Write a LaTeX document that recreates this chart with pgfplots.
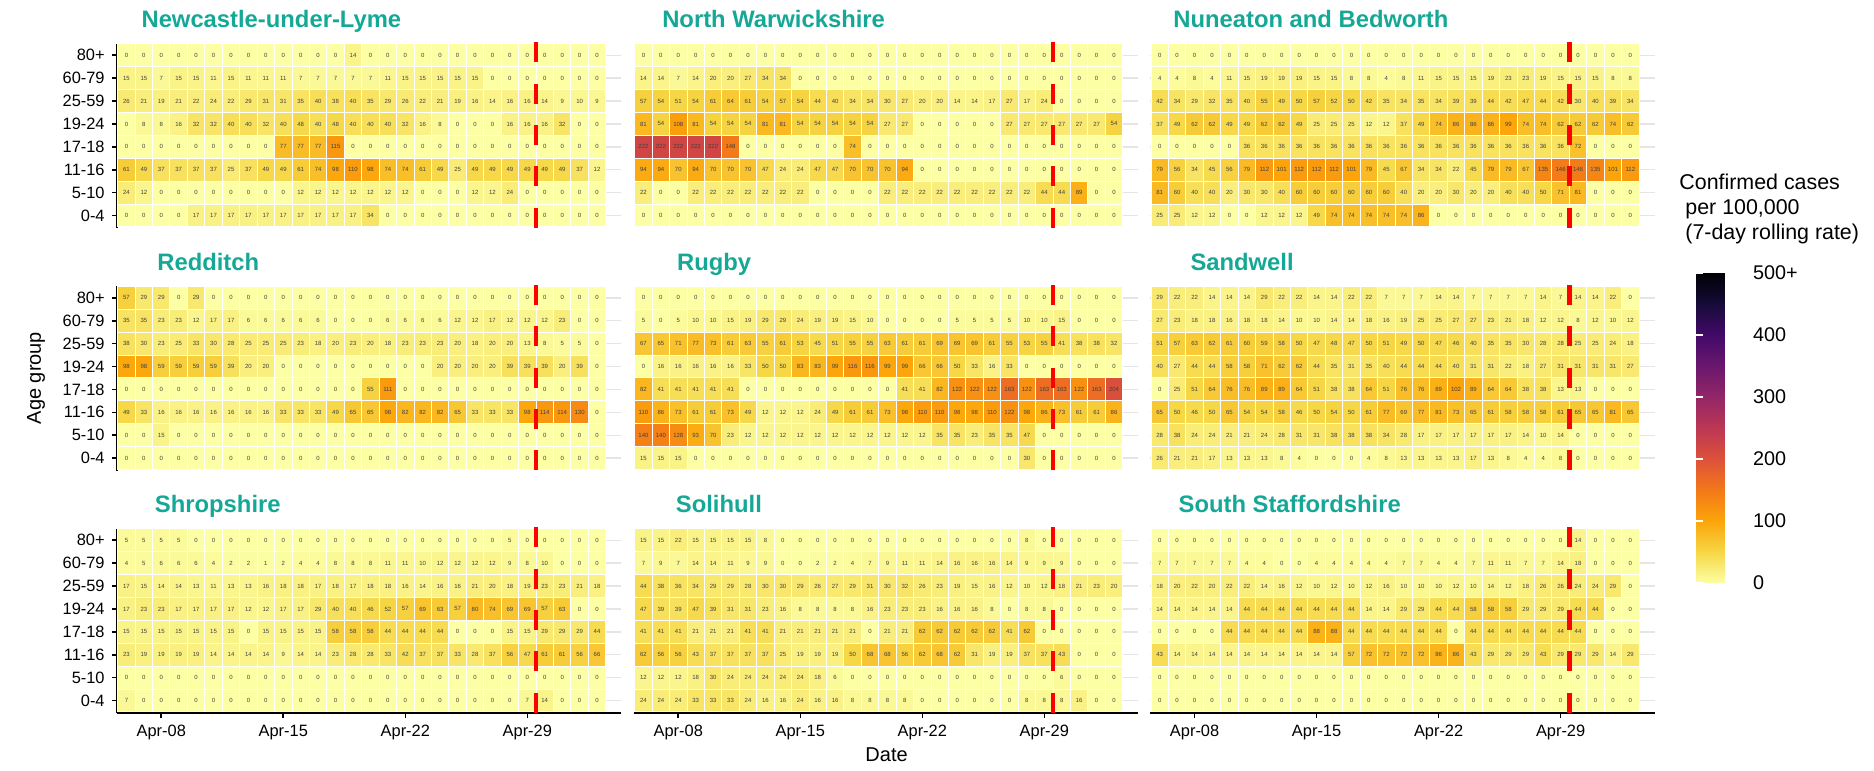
\documentclass[border=0pt]{standalone}
\usepackage{fontspec}
\setmainfont{Liberation Sans}
\usepackage{pgfplots}
\pgfplotsset{compat=1.18}
\definecolor{titlecol}{HTML}{15A896}
\pgfdeclareplotmark{cell}{\pgfpathrectangle{\pgfpoint{-4.3575pt}{-5.725pt}}{\pgfpoint{8.715pt}{11.45pt}}\pgfusepathqfillstroke}
\pgfdeclareplotmark{nomark}{}
\pgfdeclareplotmark{redbar}{\pgfsetdash{{10pt}{10.65pt}}{0pt}\pgfsetlinewidth{2.35pt}\pgfsetbuttcap\pgfsetstrokecolor{red}\pgfpathmoveto{\pgfpoint{0pt}{46.5pt}}\pgfpathlineto{\pgfpoint{0pt}{-46.5pt}}\pgfusepathqstroke}
\pgfplotsset{
  /pgf/number format/assume math mode=true,
  colormap={infernor}{rgb255=(252,255,164) rgb255=(246,215,70) rgb255=(252,165,10) rgb255=(243,120,25) rgb255=(221,81,58) rgb255=(188,55,84) rgb255=(147,38,103) rgb255=(106,23,110) rgb255=(66,10,104) rgb255=(22,11,57) rgb255=(0,0,4)},
  cellplot/.style={scatter, only marks, mark=cell, point meta=explicit, forget plot,
    line width=0.5pt,
    scatter/use mapped color={draw=white, fill=mapped color}},
  numplot/.style={only marks, mark=nomark, point meta=explicit, forget plot,
    nodes near coords, nodes near coords align={center},
    nodes near coords style={font=\fontsize{3}{3.6}\selectfont, text=black!75, inner sep=0pt}},
  panel/.style={anchor=south west, x=8.715pt, y=11.45pt,
    xmin=-0.56, xmax=28.4, ymin=-0.55, ymax=7.5, clip=false,
    axis lines=left, axis line style={-, line width=1pt, black},
    ytick={0,...,7}, yticklabels={0-4,5-10,11-16,17-18,19-24,25-59,60-79,80+},
    xtick={2,9,16,23}, xticklabels={Apr-08,Apr-15,Apr-22,Apr-29},
    tick align=outside, major tick length=2.5pt, tick style={black, line width=0.8pt},
    ymajorgrids, major grid style={black!10, line width=0.7pt},
    tick label style={font=\fontsize{8.2}{9}\selectfont},
    colormap name=infernor, point meta min=0, point meta max=500,
    every axis title/.style={at={(0.1,1)}, anchor=base west, yshift=8pt, inner sep=0pt,
      font=\fontsize{11.9}{14}\selectfont\bfseries, text=titlecol}},
  hidey/.style={y axis line style={draw=none}, ytick style={draw=none}, yticklabels={}},
  hidex/.style={x axis line style={draw=none}, xtick style={draw=none}, xticklabels={}}
}
\newcommand\ttl[1]{\setbox0=\hbox{#1}\kern-0.1\wd0\box0}
\newcommand\agerow[2]{%
  \gdef\rowcoords{}%
  \foreach \cv [count=\ci from 0] in {#2}{\xdef\rowcoords{\rowcoords (\ci,#1) [\cv]}}%
  \edef\doplot{\noexpand\addplot[cellplot] coordinates {\rowcoords};\noexpand\addplot[numplot] coordinates {\rowcoords};}%
  \doplot}
\newcommand\redline{\addplot[only marks, mark=redbar, forget plot] coordinates {(23.5,3.5)};}

\begin{document}
\begin{tikzpicture}
\useasboundingbox (0,0) rectangle (937pt,385.5pt);

% Newcastle-under-Lyme
\begin{axis}[panel, hidex, at={(58.33pt,271.43pt)}, title={\ttl{Newcastle-under-Lyme}}]
\agerow{7}{0,0,0,0,0,0,0,0,0,0,0,0,0,14,0,0,0,0,0,0,0,0,0,0,0,0,0,0}
\agerow{6}{15,15,7,15,15,11,15,11,11,11,7,7,7,7,7,11,15,15,15,15,15,0,0,0,0,0,0,0}
\agerow{5}{26,21,19,21,22,24,22,29,31,31,35,40,38,40,35,29,26,22,21,19,16,14,16,16,14,9,10,9}
\agerow{4}{0,8,8,16,32,32,40,40,32,40,48,40,48,40,40,40,32,16,8,0,0,0,16,16,16,32,0,0}
\agerow{3}{0,0,0,0,0,0,0,0,0,77,77,77,115,0,0,0,0,0,0,0,0,0,0,0,0,0,0,0}
\agerow{2}{61,49,37,37,37,37,25,37,49,49,61,74,98,110,98,74,74,61,49,25,49,49,49,49,49,49,37,12}
\agerow{1}{24,12,0,0,0,0,0,0,0,0,12,12,12,12,12,12,12,0,0,0,12,12,24,0,0,0,0,0}
\agerow{0}{0,0,0,0,17,17,17,17,17,17,17,17,17,17,34,0,0,0,0,0,0,0,0,0,0,0,0,0}
\redline
\end{axis}

% North Warwickshire
\begin{axis}[panel, hidex, hidey, at={(316.83pt,271.43pt)}, title={\ttl{North Warwickshire}}]
\agerow{7}{0,0,0,0,0,0,0,0,0,0,0,0,0,0,0,0,0,0,0,0,0,0,0,0,0,0,0,0}
\agerow{6}{14,14,7,14,20,20,27,34,34,0,0,0,0,0,0,0,0,0,0,0,0,0,0,0,0,0,0,0}
\agerow{5}{57,54,51,54,61,64,61,54,57,54,44,40,34,34,30,27,20,20,14,14,17,27,17,24,0,0,0,0}
\agerow{4}{81,54,108,81,54,54,54,81,81,54,54,54,54,54,27,27,0,0,0,0,0,27,27,27,27,27,27,54}
\agerow{3}{222,222,222,222,222,148,0,0,0,0,0,0,74,0,0,0,0,0,0,0,0,0,0,0,0,0,0,0}
\agerow{2}{94,94,70,94,70,70,70,47,24,24,47,47,70,70,70,94,0,0,0,0,0,0,0,0,0,0,0,0}
\agerow{1}{22,0,0,22,22,22,22,22,22,22,0,0,0,0,22,22,22,22,22,22,22,22,22,44,44,89,0,0}
\agerow{0}{0,0,0,0,0,0,0,0,0,0,0,0,0,0,0,0,0,0,0,0,0,0,0,0,0,0,0,0}
\redline
\end{axis}

% Nuneaton and Bedworth
\begin{axis}[panel, hidex, hidey, at={(574.98pt,271.43pt)}, title={\ttl{Nuneaton and Bedworth}}]
\agerow{7}{0,0,0,0,0,0,0,0,0,0,0,0,0,0,0,0,0,0,0,0,0,0,0,0,0,0,0,0}
\agerow{6}{4,4,8,4,11,15,19,19,19,15,15,8,8,4,8,11,15,15,15,19,23,23,19,15,15,15,8,8}
\agerow{5}{42,34,29,32,35,40,55,49,50,57,52,50,42,35,34,35,34,39,39,44,42,47,44,42,30,40,39,34}
\agerow{4}{37,49,62,62,49,49,62,62,49,25,25,25,12,12,37,49,74,86,86,86,99,74,74,62,62,62,74,62}
\agerow{3}{0,0,0,0,0,36,36,36,36,36,36,36,36,36,36,36,36,36,36,36,36,36,36,36,72,0,0,0}
\agerow{2}{79,56,34,45,56,79,112,101,112,112,112,101,79,45,67,34,34,22,45,79,79,67,135,146,146,135,101,112}
\agerow{1}{81,60,40,40,20,30,30,40,60,60,60,60,60,60,40,20,20,30,20,20,40,40,50,71,81,0,0,0}
\agerow{0}{25,25,12,12,0,0,12,12,12,49,74,74,74,74,74,86,0,0,0,0,0,0,0,0,0,0,0,0}
\redline
\end{axis}

% Redditch
\begin{axis}[panel, hidex, at={(58.33pt,150.13pt)}, title={\ttl{Redditch}}]
\agerow{7}{57,29,29,0,29,0,0,0,0,0,0,0,0,0,0,0,0,0,0,0,0,0,0,0,0,0,0,0}
\agerow{6}{35,35,23,23,12,17,17,6,6,6,6,6,0,0,0,6,6,6,6,12,12,17,12,12,12,23,0,0}
\agerow{5}{38,30,23,25,33,30,28,25,25,25,23,18,20,23,20,18,23,23,23,20,18,20,20,13,8,5,5,0}
\agerow{4}{98,98,59,59,59,59,39,20,20,0,0,0,0,0,0,0,0,0,20,20,20,20,39,39,39,20,39,0}
\agerow{3}{0,0,0,0,0,0,0,0,0,0,0,0,0,0,55,111,0,0,0,0,0,0,0,0,0,0,0,0}
\agerow{2}{49,33,16,16,16,16,16,16,16,33,33,33,49,65,65,98,82,82,82,65,33,33,33,98,114,114,130,0}
\agerow{1}{0,0,15,0,0,0,0,0,0,0,0,0,0,0,0,0,0,0,0,0,0,0,0,0,0,0,0,0}
\agerow{0}{0,0,0,0,0,0,0,0,0,0,0,0,0,0,0,0,0,0,0,0,0,0,0,0,0,0,0,0}
\redline
\end{axis}

% Rugby
\begin{axis}[panel, hidex, hidey, at={(316.83pt,150.13pt)}, title={\ttl{Rugby}}]
\agerow{7}{0,0,0,0,0,0,0,0,0,0,0,0,0,0,0,0,0,0,0,0,0,0,0,0,0,0,0,0}
\agerow{6}{5,0,5,10,10,15,19,29,29,24,19,19,15,10,0,0,0,0,5,5,5,5,10,10,15,0,0,0}
\agerow{5}{67,65,71,77,73,61,63,55,61,53,45,51,55,55,63,61,61,69,69,69,61,55,53,55,41,38,38,32}
\agerow{4}{0,16,16,16,16,16,33,50,50,83,83,99,116,116,99,99,66,66,50,33,16,33,0,0,0,0,0,0}
\agerow{3}{82,41,41,41,41,41,0,0,0,0,0,0,0,0,0,41,41,82,122,122,122,163,122,163,163,122,163,204}
\agerow{2}{110,86,73,61,61,73,49,12,12,12,24,49,61,61,73,98,110,110,98,98,110,122,98,86,73,61,61,86}
\agerow{1}{140,140,128,93,70,23,12,12,12,12,12,12,12,12,12,12,12,35,35,23,35,35,47,0,0,0,0,0}
\agerow{0}{15,15,15,0,0,0,0,0,0,0,0,0,0,0,0,0,0,0,0,0,0,0,30,0,0,0,0,0}
\redline
\end{axis}

% Sandwell
\begin{axis}[panel, hidex, hidey, at={(574.98pt,150.13pt)}, title={\ttl{Sandwell}}]
\agerow{7}{29,22,22,14,14,14,29,22,22,14,14,22,22,7,7,7,14,14,7,7,7,7,14,7,14,14,22,0}
\agerow{6}{27,23,18,18,16,18,18,14,10,10,14,14,18,16,19,25,25,27,27,23,21,18,12,12,8,12,10,12}
\agerow{5}{51,57,63,62,61,60,59,58,50,47,48,47,50,51,49,50,47,46,40,35,35,30,28,28,25,25,24,18}
\agerow{4}{40,27,44,44,58,58,71,62,62,44,35,31,35,40,44,44,44,40,31,31,22,18,27,31,31,31,31,27}
\agerow{3}{0,25,51,64,76,76,89,89,64,51,38,38,64,51,76,76,89,102,89,64,64,38,38,13,13,0,0,0}
\agerow{2}{65,50,46,50,65,54,54,58,46,50,54,50,61,77,69,77,81,73,65,61,58,58,58,61,65,65,81,65}
\agerow{1}{28,38,24,24,21,21,24,28,31,31,38,38,38,34,28,17,17,17,17,17,17,14,10,14,0,0,0,0}
\agerow{0}{26,21,21,17,13,13,13,8,4,0,0,0,4,8,13,13,13,13,17,13,8,4,4,8,0,0,0,0}
\redline
\end{axis}

% Shropshire
\begin{axis}[panel, at={(58.33pt,28.93pt)}, title={\ttl{Shropshire}}]
\agerow{7}{5,5,5,5,0,0,0,0,0,0,0,0,0,0,0,0,0,0,0,0,0,0,5,0,0,0,0,0}
\agerow{6}{4,5,6,6,6,4,2,2,1,2,4,4,8,8,8,11,11,10,12,12,12,12,9,8,10,0,0,0}
\agerow{5}{17,15,14,14,13,11,13,13,16,18,18,17,18,17,18,18,16,14,16,16,21,20,18,19,23,23,21,18}
\agerow{4}{17,23,23,17,17,17,17,12,12,17,17,29,40,40,46,52,57,69,63,57,80,74,69,69,57,63,0,0}
\agerow{3}{15,15,15,15,15,15,15,0,15,15,15,15,58,58,58,44,44,44,44,0,0,0,15,15,29,29,29,44}
\agerow{2}{23,19,19,19,19,14,14,14,14,9,14,14,23,28,28,33,42,37,37,33,28,37,56,47,61,61,56,66}
\agerow{1}{0,0,0,0,0,0,0,0,0,0,0,0,0,0,0,0,0,0,0,0,0,0,0,0,0,0,0,0}
\agerow{0}{7,0,0,0,0,0,0,0,0,0,0,0,0,0,0,0,0,0,0,0,0,0,0,7,14,0,0,0}
\redline
\end{axis}

% Solihull
\begin{axis}[panel, hidey, at={(316.83pt,28.93pt)}, title={\ttl{Solihull}}]
\agerow{7}{15,15,22,15,15,15,15,8,0,0,0,0,0,0,0,0,0,0,0,0,0,0,8,0,0,0,0,0}
\agerow{6}{7,9,7,14,14,11,9,9,0,0,2,2,4,7,9,11,11,14,16,16,16,14,9,9,9,0,0,0}
\agerow{5}{44,38,36,34,29,29,28,30,30,29,26,27,29,31,30,32,26,23,19,15,16,12,10,12,18,21,23,20}
\agerow{4}{47,39,39,47,39,31,31,23,16,8,8,8,8,16,23,23,23,16,16,16,8,0,8,8,0,0,0,0}
\agerow{3}{41,41,41,21,21,21,41,41,21,21,21,21,21,0,21,21,62,62,62,62,62,41,62,0,0,0,0,0}
\agerow{2}{62,56,56,43,37,37,37,37,25,19,19,19,50,68,68,56,62,68,62,31,19,19,37,37,43,0,0,0}
\agerow{1}{12,12,12,18,30,24,24,24,24,24,18,6,0,0,0,0,0,0,0,0,0,0,0,0,6,0,0,0}
\agerow{0}{24,24,24,33,33,33,24,16,16,24,16,16,8,8,8,8,0,0,0,0,0,0,8,8,8,16,0,0}
\redline
\end{axis}

% South Staffordshire
\begin{axis}[panel, hidey, at={(574.98pt,28.93pt)}, title={\ttl{South Staffordshire}}]
\agerow{7}{0,0,0,0,0,0,0,0,0,0,0,0,0,0,0,0,0,0,0,0,0,0,0,0,14,0,0,0}
\agerow{6}{7,7,7,7,7,4,4,0,0,4,4,4,4,4,7,7,4,4,7,11,11,7,7,14,18,0,0,0}
\agerow{5}{18,20,22,20,22,22,14,16,12,10,12,10,12,16,10,10,10,12,10,14,12,18,26,26,24,24,29,0}
\agerow{4}{14,14,14,14,14,44,44,44,44,44,44,44,14,14,29,29,44,44,58,58,58,29,29,29,44,44,0,0}
\agerow{3}{0,0,0,0,44,44,44,44,44,88,88,44,44,44,44,44,44,0,44,44,44,44,44,44,44,0,0,0}
\agerow{2}{43,14,14,14,14,14,14,14,14,14,14,57,72,72,72,72,86,86,43,29,29,29,43,29,29,29,14,29}
\agerow{1}{0,0,0,0,0,0,0,0,0,0,0,0,0,0,0,0,0,0,0,0,0,0,0,0,0,0,0,0}
\agerow{0}{0,0,0,0,0,0,0,0,0,0,0,0,0,0,0,0,0,0,0,0,0,0,0,0,0,0,0,0}
\redline
\end{axis}

% colour bar
\begin{axis}[at={(839.5pt,94pt)}, anchor=south west, hide axis, scale only axis, width=1pt, height=1pt,
  colormap name=infernor, point meta min=0, point meta max=500, colorbar,
  colorbar style={at={(parent axis.south west)}, anchor=south west, width=23pt, height=155pt, scale only axis,
    ytick={0,100,200,300,400,500}, yticklabels={0,100,200,300,400,500+},
    axis line style={draw=none}, tick align=inside, ytick pos=both, yticklabel pos=right,
    major tick length=3.5pt, ytick style={white, line width=0.6pt},
    yticklabel style={font=\fontsize{9.9}{11}\selectfont, xshift=2pt}}]
\addplot[draw=none] coordinates {(0,0)};
\end{axis}

\node[anchor=base west, align=left, inner sep=0pt, font=\fontsize{10.7}{12.5}\selectfont] at (839.5pt,265.5pt)
  {Confirmed cases\\\hspace*{0.28em}per 100,000\\\hspace*{0.28em}(7-day rolling rate)};
\node[rotate=90, font=\fontsize{10}{12}\selectfont] at (18pt,196.5pt) {Age group};
\node[font=\fontsize{10}{12}\selectfont] at (443.3pt,8pt) {Date};
\end{tikzpicture}
\end{document}
